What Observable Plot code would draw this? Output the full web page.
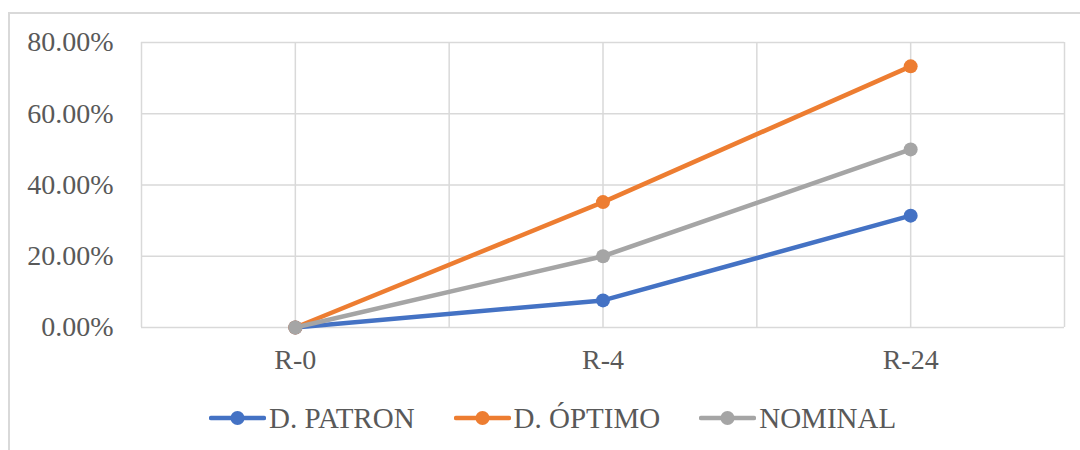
<!DOCTYPE html>
<html><head><meta charset="utf-8">
<script src="https://cdn.jsdelivr.net/npm/d3@7"></script>
<script src="https://cdn.jsdelivr.net/npm/@observablehq/plot@0.6"></script>
<style>
body{margin:0;background:#fff;width:1080px;height:450px;overflow:hidden;position:relative;font-family:"Liberation Serif","DejaVu Serif",serif;}
#frame{position:absolute;left:8px;top:12px;width:1120px;height:520px;border:2px solid #d9d9d9;box-sizing:border-box;}
#chart{position:absolute;left:0;top:0;}
#chart svg, #chart svg text{font-family:"Liberation Serif","DejaVu Serif",serif !important;}
#legend{position:absolute;left:209px;top:399px;display:flex;align-items:center;height:38px;color:#595959;font-size:29px;white-space:nowrap;font-family:"Liberation Serif","DejaVu Serif",serif;}
#legend .item{display:flex;align-items:center;margin-right:39px;}
#legend svg{display:block;margin-right:3px;}
</style>
</head><body>
<div id="frame"></div>
<div id="chart"></div>
<div id="legend"></div>
<script>
const categories = ["R-0", "R-4", "R-24"];
const seriesNames = ["D. PATRON", "D. ÓPTIMO", "NOMINAL"];
const patron = [0, 7.6, 31.4];
const optimo = [0, 35.2, 73.3];
const nominal = [0, 20.0, 50.0];
const colors = ["#4472C4", "#ED7D31", "#A5A5A5"];
const yTicks = [0, 20, 40, 60, 80];

const seriesValues = [patron, optimo, nominal];
const rows = seriesNames.flatMap((s, k) =>
  seriesValues[k].map((v, i) => ({series: s, i, value: v}))
);
const gridX = d3.range(-0.5, categories.length - 0.5 + 0.01, 0.5);

const marks = [
  Plot.ruleY(yTicks, {stroke: "#d9d9d9", strokeWidth: 1.5}),
  Plot.ruleX(gridX, {stroke: "#d9d9d9", strokeWidth: 1.5}),
  Plot.axisY({ticks: yTicks, tickSize: 0, tickPadding: 28, tickFormat: d => d.toFixed(2) + "%", label: null}),
  Plot.axisX({ticks: d3.range(categories.length), tickSize: 0, tickPadding: 22, tickFormat: i => categories[i], label: null})
];
seriesNames.forEach(s => {
  const data = rows.filter(r => r.series === s);
  marks.push(Plot.line(data, {x: "i", y: "value", stroke: "series", strokeWidth: 4.5, strokeLinecap: "round", strokeLinejoin: "round"}));
  marks.push(Plot.dot(data, {x: "i", y: "value", fill: "series", r: 7, stroke: "none"}));
});

const chart = Plot.plot({
  width: 1080,
  height: 450,
  marginLeft: 141,
  marginRight: 16,
  marginTop: 42,
  marginBottom: 123,
  style: {fontFamily: "Liberation Serif, DejaVu Serif, serif", fontSize: "28px", color: "#595959", background: "transparent", overflow: "visible"},
  x: {domain: [-0.5, categories.length - 0.5]},
  y: {domain: [0, 80]},
  color: {domain: seriesNames, range: colors},
  marks
});
document.getElementById("chart").appendChild(chart);

const legend = document.getElementById("legend");
seriesNames.forEach((s, k) => {
  const item = document.createElement("div");
  item.className = "item";
  item.innerHTML = `<svg width="57" height="20"><line x1="2" y1="10" x2="55" y2="10" stroke="${colors[k]}" stroke-width="4.5" stroke-linecap="round"/><circle cx="28.5" cy="10" r="7" fill="${colors[k]}"/></svg><span>${s}</span>`;
  legend.appendChild(item);
});
</script>
</body></html>
